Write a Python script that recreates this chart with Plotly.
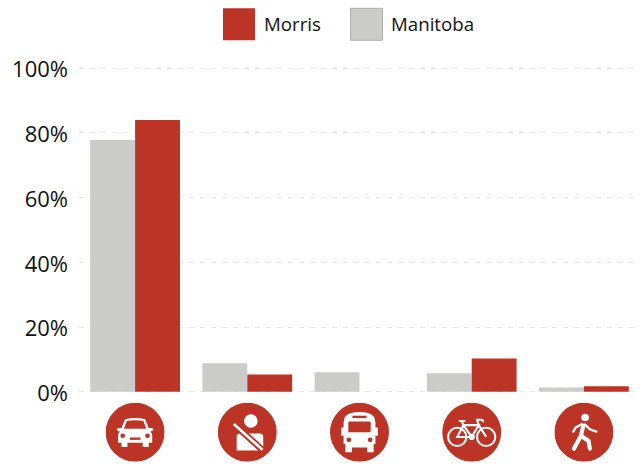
import base64
import plotly.graph_objects as go

categories = ["Car", "Passenger", "Transit", "Bicycle", "Walk"]
manitoba = [77.8, 8.8, 6.0, 5.7, 1.3]
morris = [84.0, 5.3, 0.0, 10.3, 1.7]
tick_values = [0, 20, 40, 60, 80, 100]
tick_labels = ["0%", "20%", "40%", "60%", "80%", "100%"]

RED = "#bc3425"
GREY = "#cbcbc9"
TEXT = "#111111"
W = "#ffffff"

car = f'''<path fill="{W}" d="M33 28Q50 24 67 28L73 43H78Q81 43 81 46Q81 48 76 49Q79 52 79 56V68H73V75H63V68H37V75H27V68H21V56Q21 52 24 49Q19 48 19 46Q19 43 22 43H27Z"/>
<path fill="{RED}" d="M36 31Q50 28 64 31L69 44H31Z"/><circle cx="29" cy="56" r="4" fill="{RED}"/><circle cx="71" cy="56" r="4" fill="{RED}"/><rect x="41" y="59" width="18" height="4" fill="{RED}"/>'''
belt = f'''<circle cx="56" cy="31" r="11.5" fill="{W}"/><path fill="{W}" d="M32 57Q32 52 38 52H71Q77 52 77 58V81H32Z"/>
<path stroke="{RED}" stroke-width="11" d="M20 30L82 86"/><path stroke="{W}" stroke-width="4.5" d="M27 36L76 80"/>'''
bus = f'''<path fill="{W}" d="M34 18Q50 13 66 18Q77 22 77 34V42H81V56H77V70H74V84H63V76H37V84H26V70H23V56H19V42H23V34Q23 22 34 18Z"/>
<rect x="31" y="32" width="38" height="18" rx="2" fill="{RED}"/><rect x="38" y="22" width="24" height="4" fill="{RED}"/><circle cx="32" cy="63" r="4" fill="{RED}"/><circle cx="68" cy="63" r="4" fill="{RED}"/>'''
bike = f'''<g fill="none" stroke="{W}" stroke-width="3.5"><circle cx="25.5" cy="58" r="15.5"/><circle cx="74.5" cy="58" r="15.5"/>
<path d="M25.5 58L36 38H62L50 58ZM36 38L50 58M62 38L74.5 58M62 38L59 29H66Q70 29 69 33M36 38L33 31M28 31H39"/><circle cx="50" cy="58" r="3.5"/></g>'''
walk = f'''<circle cx="52" cy="25" r="6.5" fill="{W}"/><g fill="none" stroke="{W}" stroke-linecap="round" stroke-linejoin="round">
<path stroke-width="7" d="M49 39L45 56L33 78M45 56L58 65L60 78"/><path stroke-width="4" d="M47 36L36 42L32 49M52 37L60 45L71 49"/></g>'''
icons = [car, belt, bus, bike, walk]

fig = go.Figure()
fig.add_bar(x=categories, y=manitoba, name="Manitoba", marker_color=GREY, marker_line_width=0)
fig.add_bar(x=categories, y=morris, name="Morris", marker_color=RED, marker_line_width=0)
# empty trace: only carries the axis that prints the tick labels
fig.add_scatter(x=[], y=[], yaxis="y2", showlegend=False, hoverinfo="skip")

L, TOP, BOTTOM = 79, 64.76, 395.24
PW, PH = 561, BOTTOM - TOP

def px(x):
    return (x - L) / PW

def py(y):
    return (BOTTOM - y) / PH

for i, body in enumerate(icons):
    svg = f'<svg xmlns="http://www.w3.org/2000/svg" viewBox="0 0 100 100"><circle cx="50" cy="50" r="50" fill="{RED}"/>{body}</svg>'
    uri = "data:image/svg+xml;base64," + base64.b64encode(svg.encode()).decode()
    fig.add_layout_image(source=uri, xref="paper", yref="paper", x=(i + 0.5) / 5, y=py(403),
                         sizex=59 / PW, sizey=59 / PH, xanchor="center", yanchor="top",
                         sizing="stretch", layer="above")

# hand-placed legend matching the reference's large square swatches
def swatch(x0, color, line):
    fig.add_shape(type="rect", xref="paper", yref="paper", x0=px(x0), x1=px(x0 + 32),
                  y0=py(40), y1=py(8), fillcolor=color, line=line)

swatch(223, RED, dict(width=0))
swatch(350.5, GREY, dict(width=1, color="#aeaeac"))
for label, x0 in [("Morris", 264), ("Manitoba", 391)]:
    fig.add_annotation(text=label, xref="paper", yref="paper", x=px(x0), y=py(23),
                       xanchor="left", yanchor="middle", showarrow=False, xshift=-2,
                       font=dict(size=18.7, color=TEXT, family="Open Sans"))

fig.update_layout(
    width=642, height=464, margin=dict(l=L, r=2, t=TOP, b=464 - BOTTOM),
    barmode="group", bargap=0.2, bargroupgap=0,
    showlegend=False, plot_bgcolor="white", paper_bgcolor="white",
    font=dict(family="Open Sans", color=TEXT),
    xaxis=dict(showticklabels=False, ticks="", showline=False, showgrid=False, zeroline=False),
    yaxis=dict(range=[-1, 101], tickvals=tick_values, showticklabels=False, ticks="",
               showgrid=True, gridcolor="#e6e6e6", griddash="5px,6px", gridwidth=1,
               zeroline=False, showline=False),
    yaxis2=dict(overlaying="y", side="left", range=[-0.55, 101.45],
                tickvals=tick_values, ticktext=tick_labels,
                tickfont=dict(size=22, color=TEXT), ticks="", ticklabelstandoff=10,
                showgrid=False, zeroline=False, showline=False),
)
fig.write_html("out.html", post_script="document.body.style.margin='0';",
               config=dict(displayModeBar=False))
